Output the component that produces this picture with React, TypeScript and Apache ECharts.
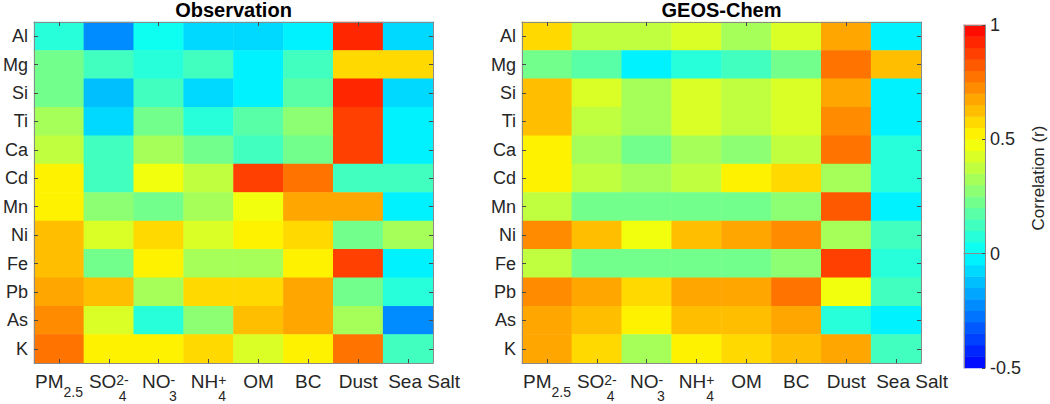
import React, { useEffect, useRef } from 'react';
import * as echarts from 'echarts';

const elements = ['Al', 'Mg', 'Si', 'Ti', 'Ca', 'Cd', 'Mn', 'Ni', 'Fe', 'Pb', 'As', 'K'];
const species = ['PM2.5', 'SO4', 'NO3', 'NH4', 'OM', 'BC', 'Dust', 'Sea Salt'];

// rows follow `elements`, columns follow `species`
const observation: number[][] = [
  [0.06, -0.21, 0.0, -0.1, -0.07, -0.01, 0.9, -0.06],
  [0.22, 0.1, 0.08, 0.1, -0.02, 0.1, 0.56, 0.56],
  [0.2, -0.12, 0.12, -0.09, -0.04, 0.16, 0.9, -0.09],
  [0.3, -0.08, 0.22, 0.06, 0.17, 0.26, 0.85, -0.02],
  [0.39, 0.1, 0.31, 0.22, 0.12, 0.2, 0.85, -0.02],
  [0.5, 0.12, 0.45, 0.39, 0.85, 0.75, 0.1, 0.1],
  [0.52, 0.27, 0.23, 0.34, 0.45, 0.66, 0.66, -0.03],
  [0.63, 0.41, 0.59, 0.44, 0.51, 0.58, 0.22, 0.31],
  [0.62, 0.24, 0.52, 0.33, 0.33, 0.52, 0.85, -0.02],
  [0.67, 0.63, 0.33, 0.58, 0.58, 0.67, 0.24, 0.08],
  [0.72, 0.43, 0.08, 0.26, 0.62, 0.67, 0.33, -0.25],
  [0.76, 0.5, 0.5, 0.57, 0.44, 0.5, 0.75, 0.14],
];

const geosChem: number[][] = [
  [0.58, 0.35, 0.35, 0.44, 0.33, 0.44, 0.66, -0.02],
  [0.22, 0.16, -0.01, 0.06, 0.1, 0.2, 0.75, 0.61],
  [0.62, 0.44, 0.34, 0.44, 0.36, 0.44, 0.67, -0.02],
  [0.61, 0.36, 0.33, 0.44, 0.37, 0.44, 0.71, -0.02],
  [0.51, 0.31, 0.24, 0.31, 0.27, 0.36, 0.75, 0.06],
  [0.51, 0.36, 0.33, 0.39, 0.5, 0.56, 0.33, 0.06],
  [0.39, 0.2, 0.2, 0.24, 0.2, 0.29, 0.8, -0.02],
  [0.71, 0.6, 0.45, 0.61, 0.67, 0.7, 0.33, 0.14],
  [0.39, 0.2, 0.2, 0.2, 0.2, 0.26, 0.85, 0.06],
  [0.73, 0.66, 0.58, 0.67, 0.67, 0.75, 0.45, 0.1],
  [0.66, 0.61, 0.5, 0.63, 0.64, 0.67, 0.08, -0.01],
  [0.66, 0.56, 0.33, 0.5, 0.56, 0.61, 0.66, 0.12],
];

const colorMin = -0.5;
const colorMax = 1;
const colorLevels = 30;
const colorbarTicks = [-0.5, 0, 0.5, 1];

const FONT = '"Liberation Sans", Arial, Helvetica, sans-serif';
const TEXT = '#262626';
const AXIS = '#8a8a8a';
const TICK = '#4a4a4a';

const speciesLabels: Record<string, string> = {
  'PM2.5': '{n|PM}{sub1|2.5}',
  SO4: '{n|SO}{sup|2-}\n{gSO| }{sub|4}',
  NO3: '{n|NO}{sup|-}\n{gNO| }{sub|3}',
  NH4: '{n|NH}{sup|+}\n{gNH| }{sub|4}',
  OM: '{n|OM}',
  BC: '{n|BC}',
  Dust: '{n|Dust}',
  'Sea Salt': '{ss|Sea Salt}',
};

function cmap(v: number): string {
  let r = 0, g = 0, b = 0;
  if (v < 0) {
    const t = (v + 0.5) / 0.5;
    r = 0; g = 255 * t; b = 255;
  } else if (v < 0.5) {
    const t = v / 0.5;
    r = 255 * t; g = 255; b = 255 * (1 - t);
  } else {
    const t = (v - 0.5) / 0.5;
    r = 255; g = 255 * (1 - t); b = 0;
  }
  return `rgb(${Math.round(r)},${Math.round(g)},${Math.round(b)})`;
}

export default function App() {
  const ref = useRef<HTMLDivElement>(null);

  useEffect(() => {
    if (!ref.current) return;
    const chart = echarts.init(ref.current, undefined, { renderer: 'svg' });

    const step = (colorMax - colorMin) / colorLevels;
    const pieces: any[] = [];
    const levelCats: string[] = [];
    const levelData: any[] = [];
    for (let i = 0; i < colorLevels; i++) {
      const lo = Math.round((colorMin + step * i) * 1000) / 1000;
      const hi = Math.round((colorMin + step * (i + 1)) * 1000) / 1000;
      const mid = (lo + hi) / 2;
      const p: any = { gte: lo, color: cmap(mid) };
      if (i === colorLevels - 1) p.lte = hi; else p.lt = hi;
      pieces.push(p);
      levelCats.push(String(i));
      levelData.push([0, i, mid]);
    }

    const toData = (m: number[][]) => {
      const out: any[] = [];
      m.forEach((row, yi) => row.forEach((v, xi) => out.push([xi, yi, v])));
      return out;
    };

    const base = { color: TEXT, fontFamily: FONT, verticalAlign: 'top' };
    const rich = {
      n: { ...base, fontSize: 19, lineHeight: 22, height: 22 },
      ss: { ...base, fontSize: 19, lineHeight: 22, height: 22, padding: [0, 0, 0, 32] },
      sup: { ...base, fontSize: 14, lineHeight: 22, height: 20 },
      sub1: { ...base, fontSize: 14, lineHeight: 22, height: 44 },
      gSO: { ...base, fontSize: 14, lineHeight: 8, height: 8, width: 27.5 },
      gNO: { ...base, fontSize: 14, lineHeight: 8, height: 8, width: 28.5 },
      gNH: { ...base, fontSize: 14, lineHeight: 8, height: 8, width: 27.4 },
      sub: { ...base, fontSize: 14, lineHeight: 8, height: 8 },
    };

    const xMain = (grid: number, pos: 'bottom' | 'top') => ({
      type: 'category',
      gridIndex: grid,
      position: pos,
      data: species,
      boundaryGap: true,
      z: 10,
      axisLine: { show: true, lineStyle: { color: AXIS, width: 1 } },
      axisTick: { show: true, inside: true, alignWithLabel: true, length: 4, lineStyle: { color: TICK } },
      axisLabel: pos === 'bottom'
        ? { show: true, interval: 0, margin: 7, formatter: (v: string) => speciesLabels[v], rich }
        : { show: false },
      splitLine: { show: false },
    });

    const yMain = (grid: number, pos: 'left' | 'right') => ({
      type: 'category',
      gridIndex: grid,
      position: pos,
      data: elements,
      inverse: true,
      z: 10,
      axisLine: { show: true, lineStyle: { color: AXIS, width: 1 } },
      axisTick: { show: true, inside: true, alignWithLabel: true, length: 4, lineStyle: { color: TICK } },
      axisLabel: pos === 'left'
        ? { show: true, interval: 0, margin: 6, fontSize: 18, color: TEXT, fontFamily: FONT }
        : { show: false },
      splitLine: { show: false },
    });

    const option: any = {
      animation: false,
      textStyle: { fontFamily: FONT },
      grid: [
        { left: 34, top: 22, width: 399, height: 341, containLabel: false, outerBoundsMode: 'none' },
        { left: 522, top: 22, width: 399, height: 341, containLabel: false, outerBoundsMode: 'none' },
        { left: 964, top: 25, width: 21, height: 343, containLabel: false, outerBoundsMode: 'none' },
      ],
      xAxis: [
        xMain(0, 'bottom'),
        xMain(0, 'top'),
        xMain(1, 'bottom'),
        xMain(1, 'top'),
        {
          type: 'category', gridIndex: 2, position: 'bottom', data: ['c'], z: 10,
          axisLine: { show: true, lineStyle: { color: AXIS } }, axisTick: { show: false }, axisLabel: { show: false },
        },
        {
          type: 'category', gridIndex: 2, position: 'top', data: ['c'], z: 10,
          axisLine: { show: true, lineStyle: { color: AXIS } }, axisTick: { show: false }, axisLabel: { show: false },
        },
      ],
      yAxis: [
        yMain(0, 'left'),
        yMain(0, 'right'),
        yMain(1, 'left'),
        yMain(1, 'right'),
        {
          type: 'category', gridIndex: 2, position: 'left', data: levelCats, z: 10,
          axisLine: { show: true, lineStyle: { color: AXIS } }, axisTick: { show: false }, axisLabel: { show: false },
        },
        {
          type: 'value', gridIndex: 2, position: 'right', min: colorMin, max: colorMax, interval: 0.5, z: 10,
          axisLine: { show: true, lineStyle: { color: AXIS } },
          axisTick: { show: true, inside: true, length: 3, lineStyle: { color: TICK } },
          axisLabel: {
            show: true, margin: 5, fontSize: 18, color: TEXT, fontFamily: FONT,
            customValues: colorbarTicks,
          },
          splitLine: { show: false },
        },
      ],
      visualMap: {
        type: 'piecewise',
        show: false,
        dimension: 2,
        seriesIndex: [0, 1, 2],
        pieces,
      },
      graphic: [
        {
          type: 'text', x: 233.5, y: 10,
          style: { text: 'Observation', font: `bold 20px ${FONT}`, fill: '#000', align: 'center', verticalAlign: 'middle' },
        },
        {
          type: 'text', x: 721.5, y: 10,
          style: { text: 'GEOS-Chem', font: `bold 20px ${FONT}`, fill: '#000', align: 'center', verticalAlign: 'middle' },
        },
        {
          type: 'text', x: 1038, y: 178, rotation: Math.PI / 2,
          style: { text: 'Correlation (r)', font: `17px ${FONT}`, fill: TEXT, align: 'center', verticalAlign: 'middle' },
        },
      ],
      series: [
        {
          type: 'heatmap', xAxisIndex: 0, yAxisIndex: 0, data: toData(observation),
          emphasis: { disabled: true }, itemStyle: { borderWidth: 0 },
        },
        {
          type: 'heatmap', xAxisIndex: 2, yAxisIndex: 2, data: toData(geosChem),
          emphasis: { disabled: true }, itemStyle: { borderWidth: 0 },
        },
        {
          type: 'heatmap', xAxisIndex: 4, yAxisIndex: 4, data: levelData,
          emphasis: { disabled: true }, itemStyle: { borderWidth: 0 },
        },
      ],
    };

    chart.setOption(option);
    return () => chart.dispose();
  }, []);

  return (
    <div
      ref={ref}
      style={{ position: 'absolute', left: 0, top: 0, width: 1050, height: 404, background: '#fff' }}
    />
  );
}
